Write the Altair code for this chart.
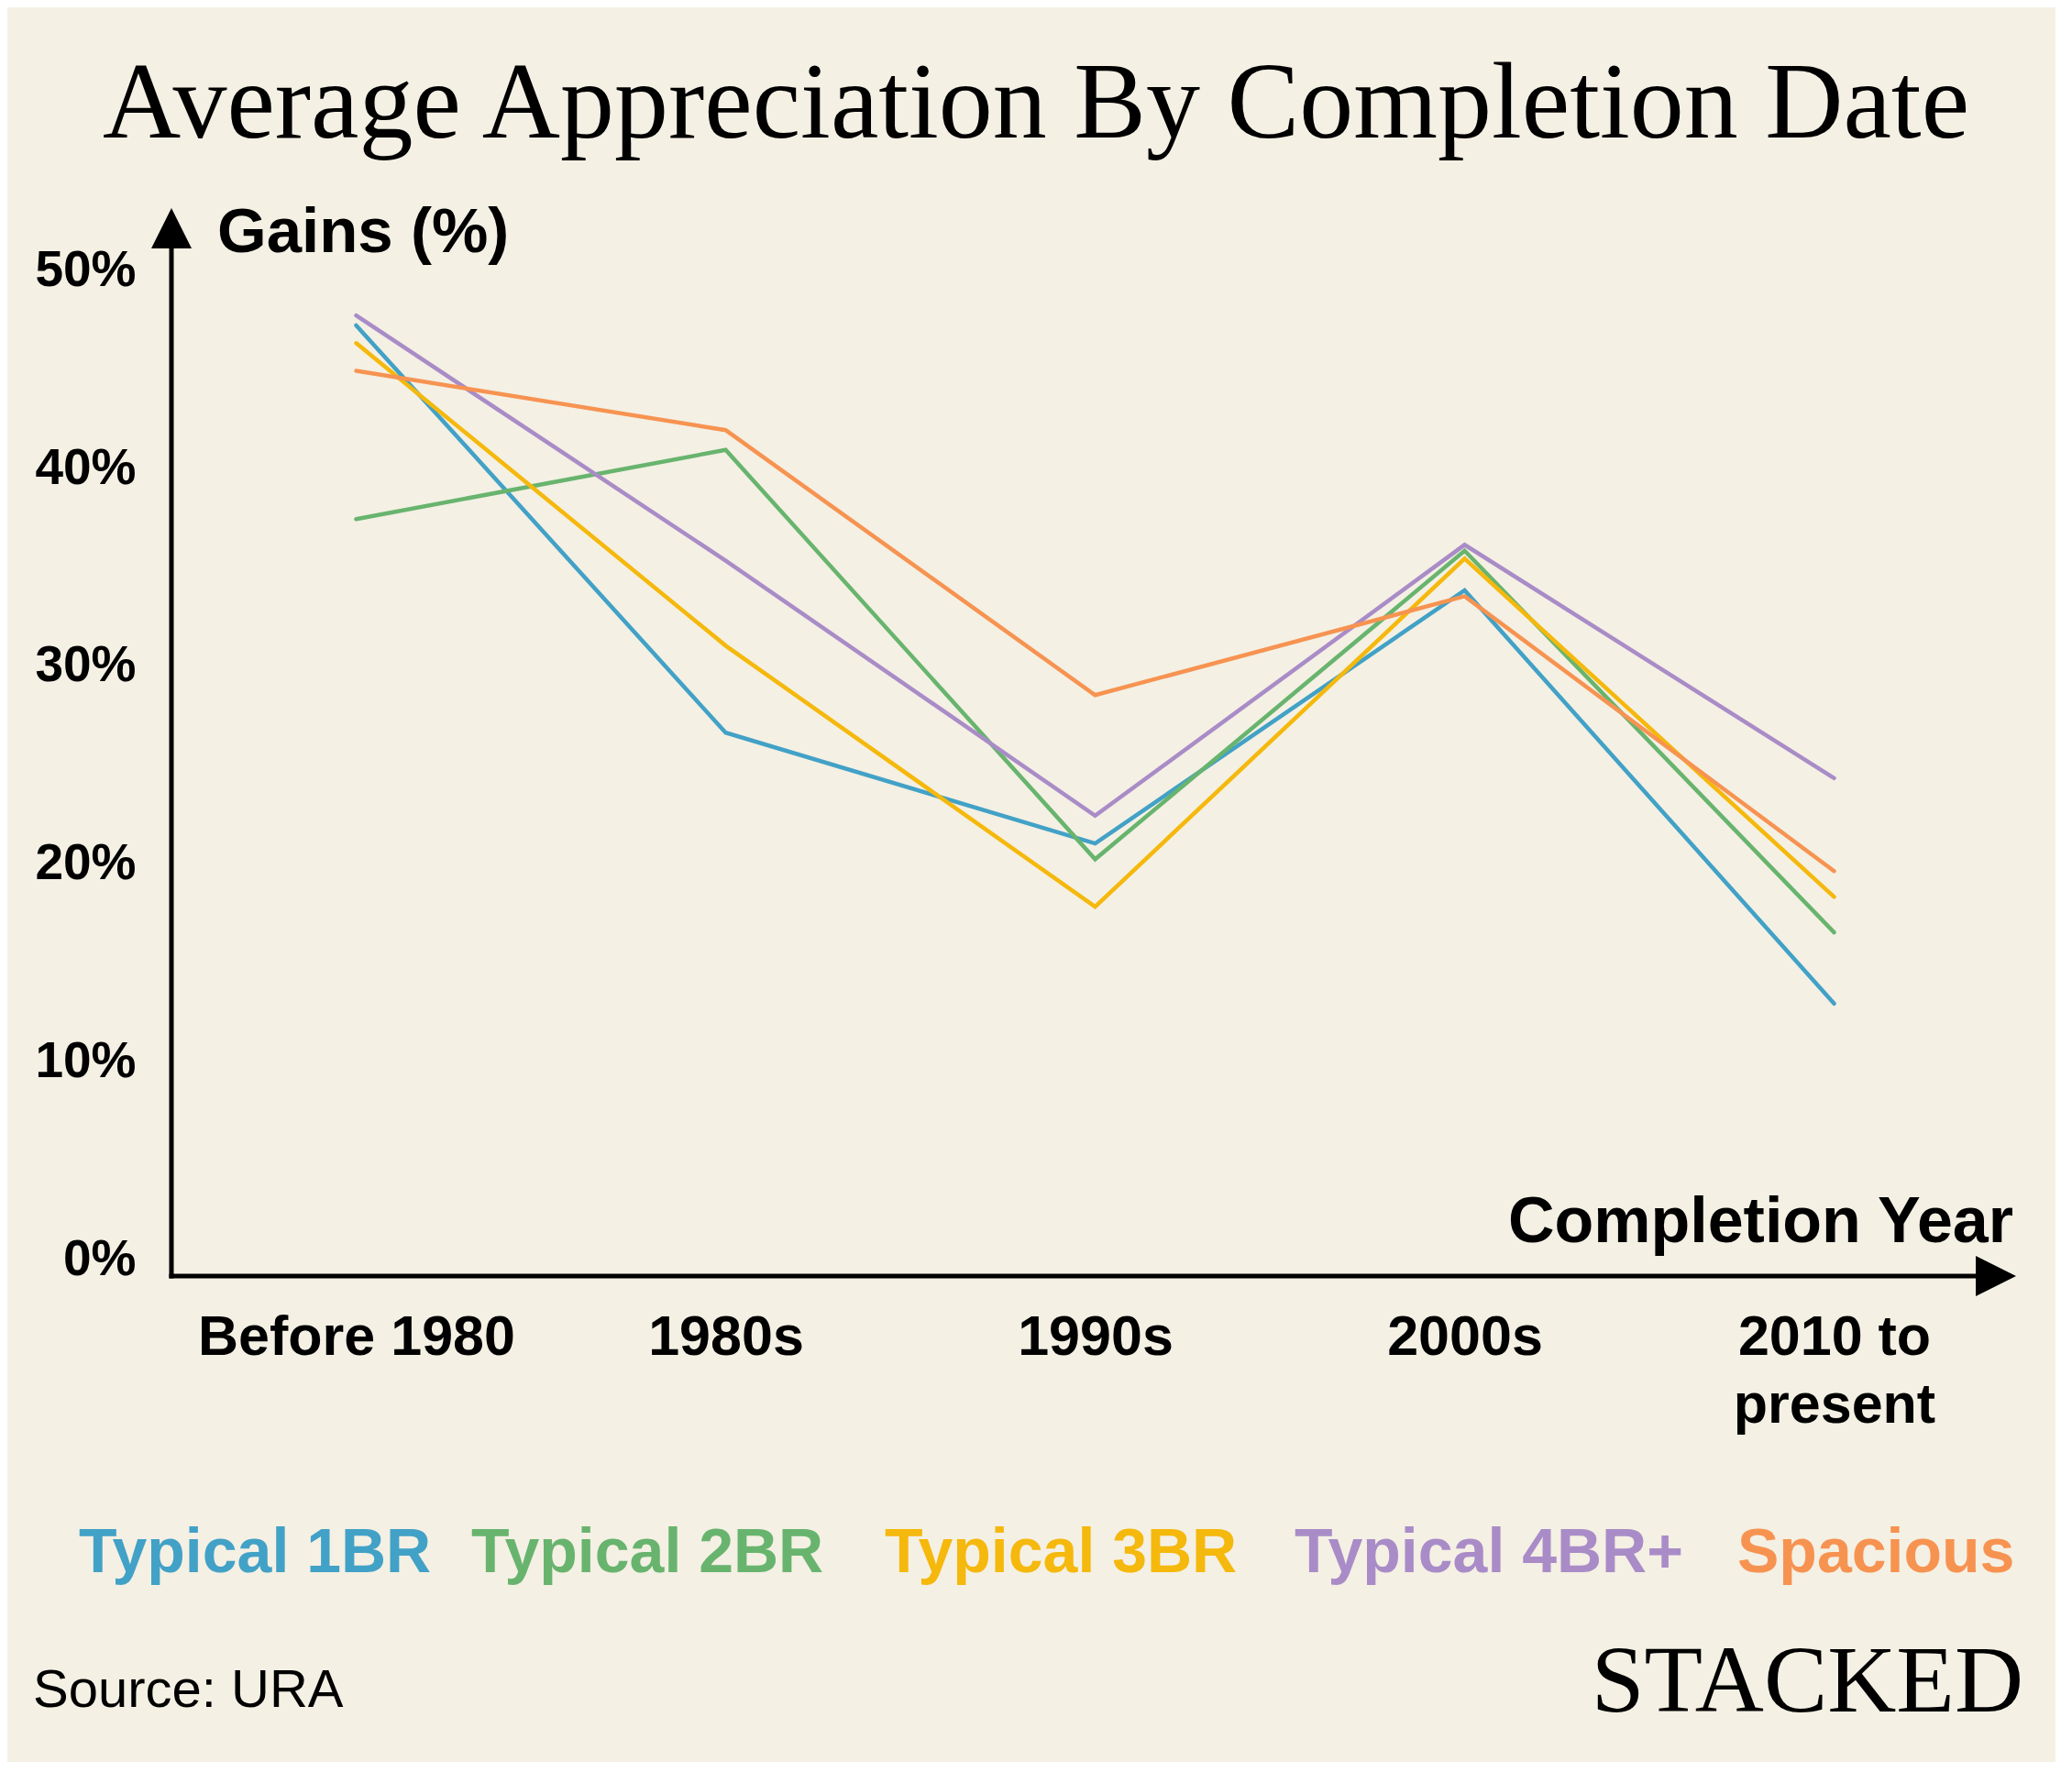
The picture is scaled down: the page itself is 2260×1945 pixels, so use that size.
import altair as alt
import pandas as pd

# ---- data ----
periods = ["Before 1980", "1980s", "1990s", "2000s", "2010 to present"]
series = ["Typical 1BR", "Typical 2BR", "Typical 3BR", "Typical 4BR+", "Spacious"]
colors = ["#42A1C6", "#68B46E", "#F5B80C", "#A98CC7", "#F79351"]

v_1br = [47.2, 26.6, 21.0, 33.8, 12.9]
v_2br = [37.4, 40.9, 20.2, 35.8, 16.5]
v_3br = [46.3, 31.0, 17.8, 35.4, 18.3]
v_4br = [47.7, 35.3, 22.4, 36.1, 24.3]
v_spacious = [44.9, 41.9, 28.5, 33.5, 19.6]

y_ticks = [0, 10, 20, 30, 40, 50]

title_text = "Average Appreciation By Completion Date"
y_title = "Gains (%)"
x_title = "Completion Year"
source_text = "Source: URA"
brand_text = "STACKED"

values_by_series = [v_1br, v_2br, v_3br, v_4br, v_spacious]
rows = []
for s, vals in zip(series, values_by_series):
    for p, v in zip(periods, vals):
        rows.append({"series": s, "period": p, "value": v})
df = pd.DataFrame(rows)

BG = "#F4F0E4"
SANS = "Liberation Sans"
SERIF = "Liberation Serif"
W, H = 2015, 1165
Y_DOMAIN = [-0.88, 53.13]

one = alt.Data(values=[{"k": 0}])

lines = alt.Chart(df).mark_line(strokeWidth=4.5, strokeCap="round").encode(
    x=alt.X(
        "period:N",
        sort=periods,
        scale=alt.Scale(type="point", padding=0.5),
        axis=alt.Axis(
            title=None, domain=False, ticks=False, tickSize=0, grid=False,
            labelFont=SANS, labelFontSize=61, labelFontWeight="bold", labelColor="black",
            labelAngle=0, labelBaseline="alphabetic", labelPadding=85, labelLineHeight=74,
            labelLimit=2000,
            labelExpr="datum.label == '2010 to present' ? ['2010 to', 'present'] : datum.label",
        ),
    ),
    y=alt.Y(
        "value:Q",
        scale=alt.Scale(domain=Y_DOMAIN, nice=False, zero=False),
        axis=alt.Axis(
            title=None, domain=False, ticks=False, tickSize=0, grid=False,
            values=y_ticks, labelExpr="datum.value + '%'",
            labelFont=SANS, labelFontSize=55, labelFontWeight="bold", labelColor="black",
            labelPadding=39, labelBaseline="middle", labelLimit=2000,
        ),
    ),
    color=alt.Color("series:N", scale=alt.Scale(domain=series, range=colors), legend=None),
    detail="series:N",
)

# axis lines and arrowheads
y_line = alt.Chart(one).mark_rule(color="black", strokeWidth=5).encode(
    x=alt.value(0), y=alt.value(40), y2=alt.value(H + 2.5)
)
x_line = alt.Chart(one).mark_rule(color="black", strokeWidth=5).encode(
    x=alt.value(-2.5), x2=alt.value(1975), y=alt.value(H)
)
y_arrow = alt.Chart(one).mark_point(
    shape="M0,-1L1,1L-1,1Z", filled=True, color="black", opacity=1, size=44 * 44
).encode(x=alt.value(0), y=alt.value(22))
x_arrow = alt.Chart(one).mark_point(
    shape="M1,0L-1,-1L-1,1Z", filled=True, color="black", opacity=1, size=44 * 44
).encode(x=alt.value(1990), y=alt.value(H))

def label(text, x, y, size, font=SANS, weight="normal", align="left", color="black"):
    return alt.Chart(one).mark_text(
        text=text, font=font, fontSize=size, fontWeight=weight, align=align,
        baseline="alphabetic", color=color,
    ).encode(x=alt.value(x), y=alt.value(y))

title = label(title_text, 943, -77, 118, font=SERIF, align="center")
y_lab = label(y_title, 50, 48, 69, weight="bold")
x_lab = label(x_title, 2009, 1128, 70, weight="bold", align="right")
src = label(source_text, -151, 1635, 58)
brand = label(brand_text, 2020, 1640, 104, font=SERIF, align="right")

legend_x = [-101, 327, 778, 1225, 1708]
legend_layers = [
    label(s, lx, 1488, 68, weight="bold", color=c)
    for s, c, lx in zip(series, colors, legend_x)
]

chart = alt.layer(
    lines, y_line, x_line, y_arrow, x_arrow, title, y_lab, x_lab, src, brand, *legend_layers
).properties(
    width=W, height=H,
    autosize=alt.AutoSizeParams(type="none"),
    padding={"left": 179, "top": 219, "right": 40, "bottom": 530},
    background=BG,
).configure_view(strokeWidth=0)

chart.save("out.html", embed_options={"renderer": "svg", "actions": False})
